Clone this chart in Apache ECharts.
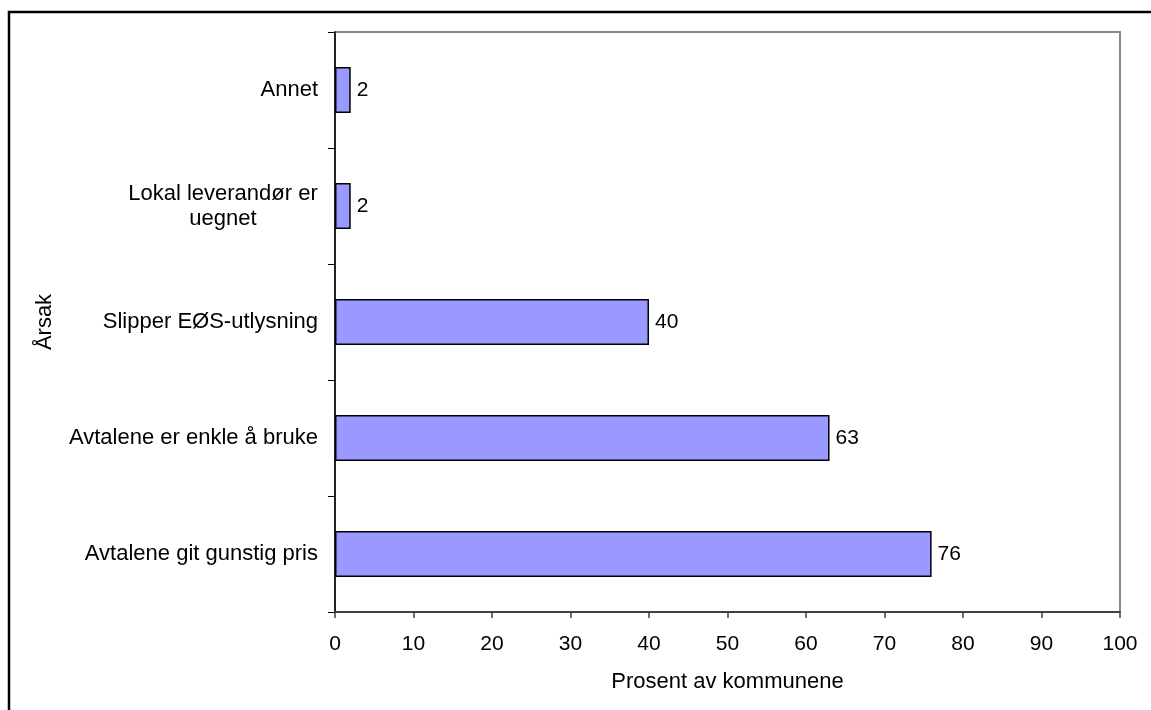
<!DOCTYPE html>
<html>
<head>
<meta charset="utf-8">
<script src="https://cdn.jsdelivr.net/npm/echarts@6/dist/echarts.min.js"></script>
<style>
  html, body { margin: 0; padding: 0; background: #fff; }
  #chart { width: 1151px; height: 710px; }
</style>
</head>
<body>
<div id="chart"></div>
<script>
// Reasons, listed bottom to top as they appear on the category axis
const categories = [
  'Avtalene git gunstig pris',
  'Avtalene er enkle å bruke',
  'Slipper EØS-utlysning',
  'Lokal leverandør er\nuegnet',
  'Annet'
];
const values = [76, 63, 40, 2, 2];
const xTicks = [0, 10, 20, 30, 40, 50, 60, 70, 80, 90, 100];

const FONT = '"Liberation Sans", Arial, sans-serif';
const CAT_SIZE = 22;

// Widest line of the wrapped category label, so its lines can be centred on one another
const ctx = document.createElement('canvas').getContext('2d');
ctx.font = CAT_SIZE + 'px ' + FONT;
let wrapWidth = 0;
categories.forEach(function (c) {
  if (c.indexOf('\n') >= 0) {
    c.split('\n').forEach(function (l) { wrapWidth = Math.max(wrapWidth, Math.ceil(ctx.measureText(l).width)); });
  }
});

const chart = echarts.init(document.getElementById('chart'), null, { renderer: 'canvas' });

chart.setOption({
  backgroundColor: '#ffffff',
  animation: false,
  textStyle: { fontFamily: FONT, color: '#000' },
  graphic: [{
    type: 'rect',
    shape: { x: 9, y: 12, width: 1300, height: 900 },
    style: { fill: 'none', stroke: '#000', lineWidth: 2.5 },
    silent: true,
    z: 100
  }],
  grid: {
    left: 335, top: 32, right: 31, bottom: 98,
    show: true,
    borderColor: '#8a8a8a',
    borderWidth: 2,
    backgroundColor: 'transparent'
  },
  xAxis: {
    type: 'value',
    min: xTicks[0],
    max: xTicks[xTicks.length - 1],
    interval: 10,
    name: 'Prosent av kommunene',
    nameLocation: 'middle',
    nameGap: 59,
    nameTextStyle: { fontFamily: FONT, fontSize: 22, color: '#000' },
    axisLine: { show: true, lineStyle: { color: '#404040', width: 2 } },
    axisTick: { show: true, length: 6, lineStyle: { color: '#404040', width: 1.5 } },
    axisLabel: { fontFamily: FONT, fontSize: 21, color: '#000', margin: 22 },
    splitLine: { show: false }
  },
  yAxis: {
    type: 'category',
    data: categories,
    name: 'Årsak',
    nameLocation: 'middle',
    nameRotate: 90,
    nameGap: 279,
    nameTextStyle: { fontFamily: FONT, fontSize: 22, color: '#000' },
    axisLine: { show: true, lineStyle: { color: '#000', width: 1.5 } },
    axisTick: { show: true, length: 7, lineStyle: { color: '#000', width: 1 } },
    axisLabel: {
      fontFamily: FONT, fontSize: CAT_SIZE, color: '#000', margin: 17, lineHeight: 25,
      formatter: function (v) {
        if (v.indexOf('\n') < 0) return v;
        return v.split('\n').map(function (l) { return '{c|' + l + '}'; }).join('\n');
      },
      rich: {
        c: { fontFamily: FONT, fontSize: CAT_SIZE, color: '#000', width: wrapWidth, align: 'center', lineHeight: 25 }
      }
    },
    splitLine: { show: false }
  },
  series: [{
    type: 'bar',
    data: values,
    barWidth: 46,
    itemStyle: { color: '#9999ff', borderColor: '#000', borderWidth: 1.5 },
    label: {
      show: true,
      position: 'right',
      distance: 6,
      fontFamily: FONT,
      fontSize: 21,
      color: '#000'
    }
  }]
});
</script>
</body>
</html>
